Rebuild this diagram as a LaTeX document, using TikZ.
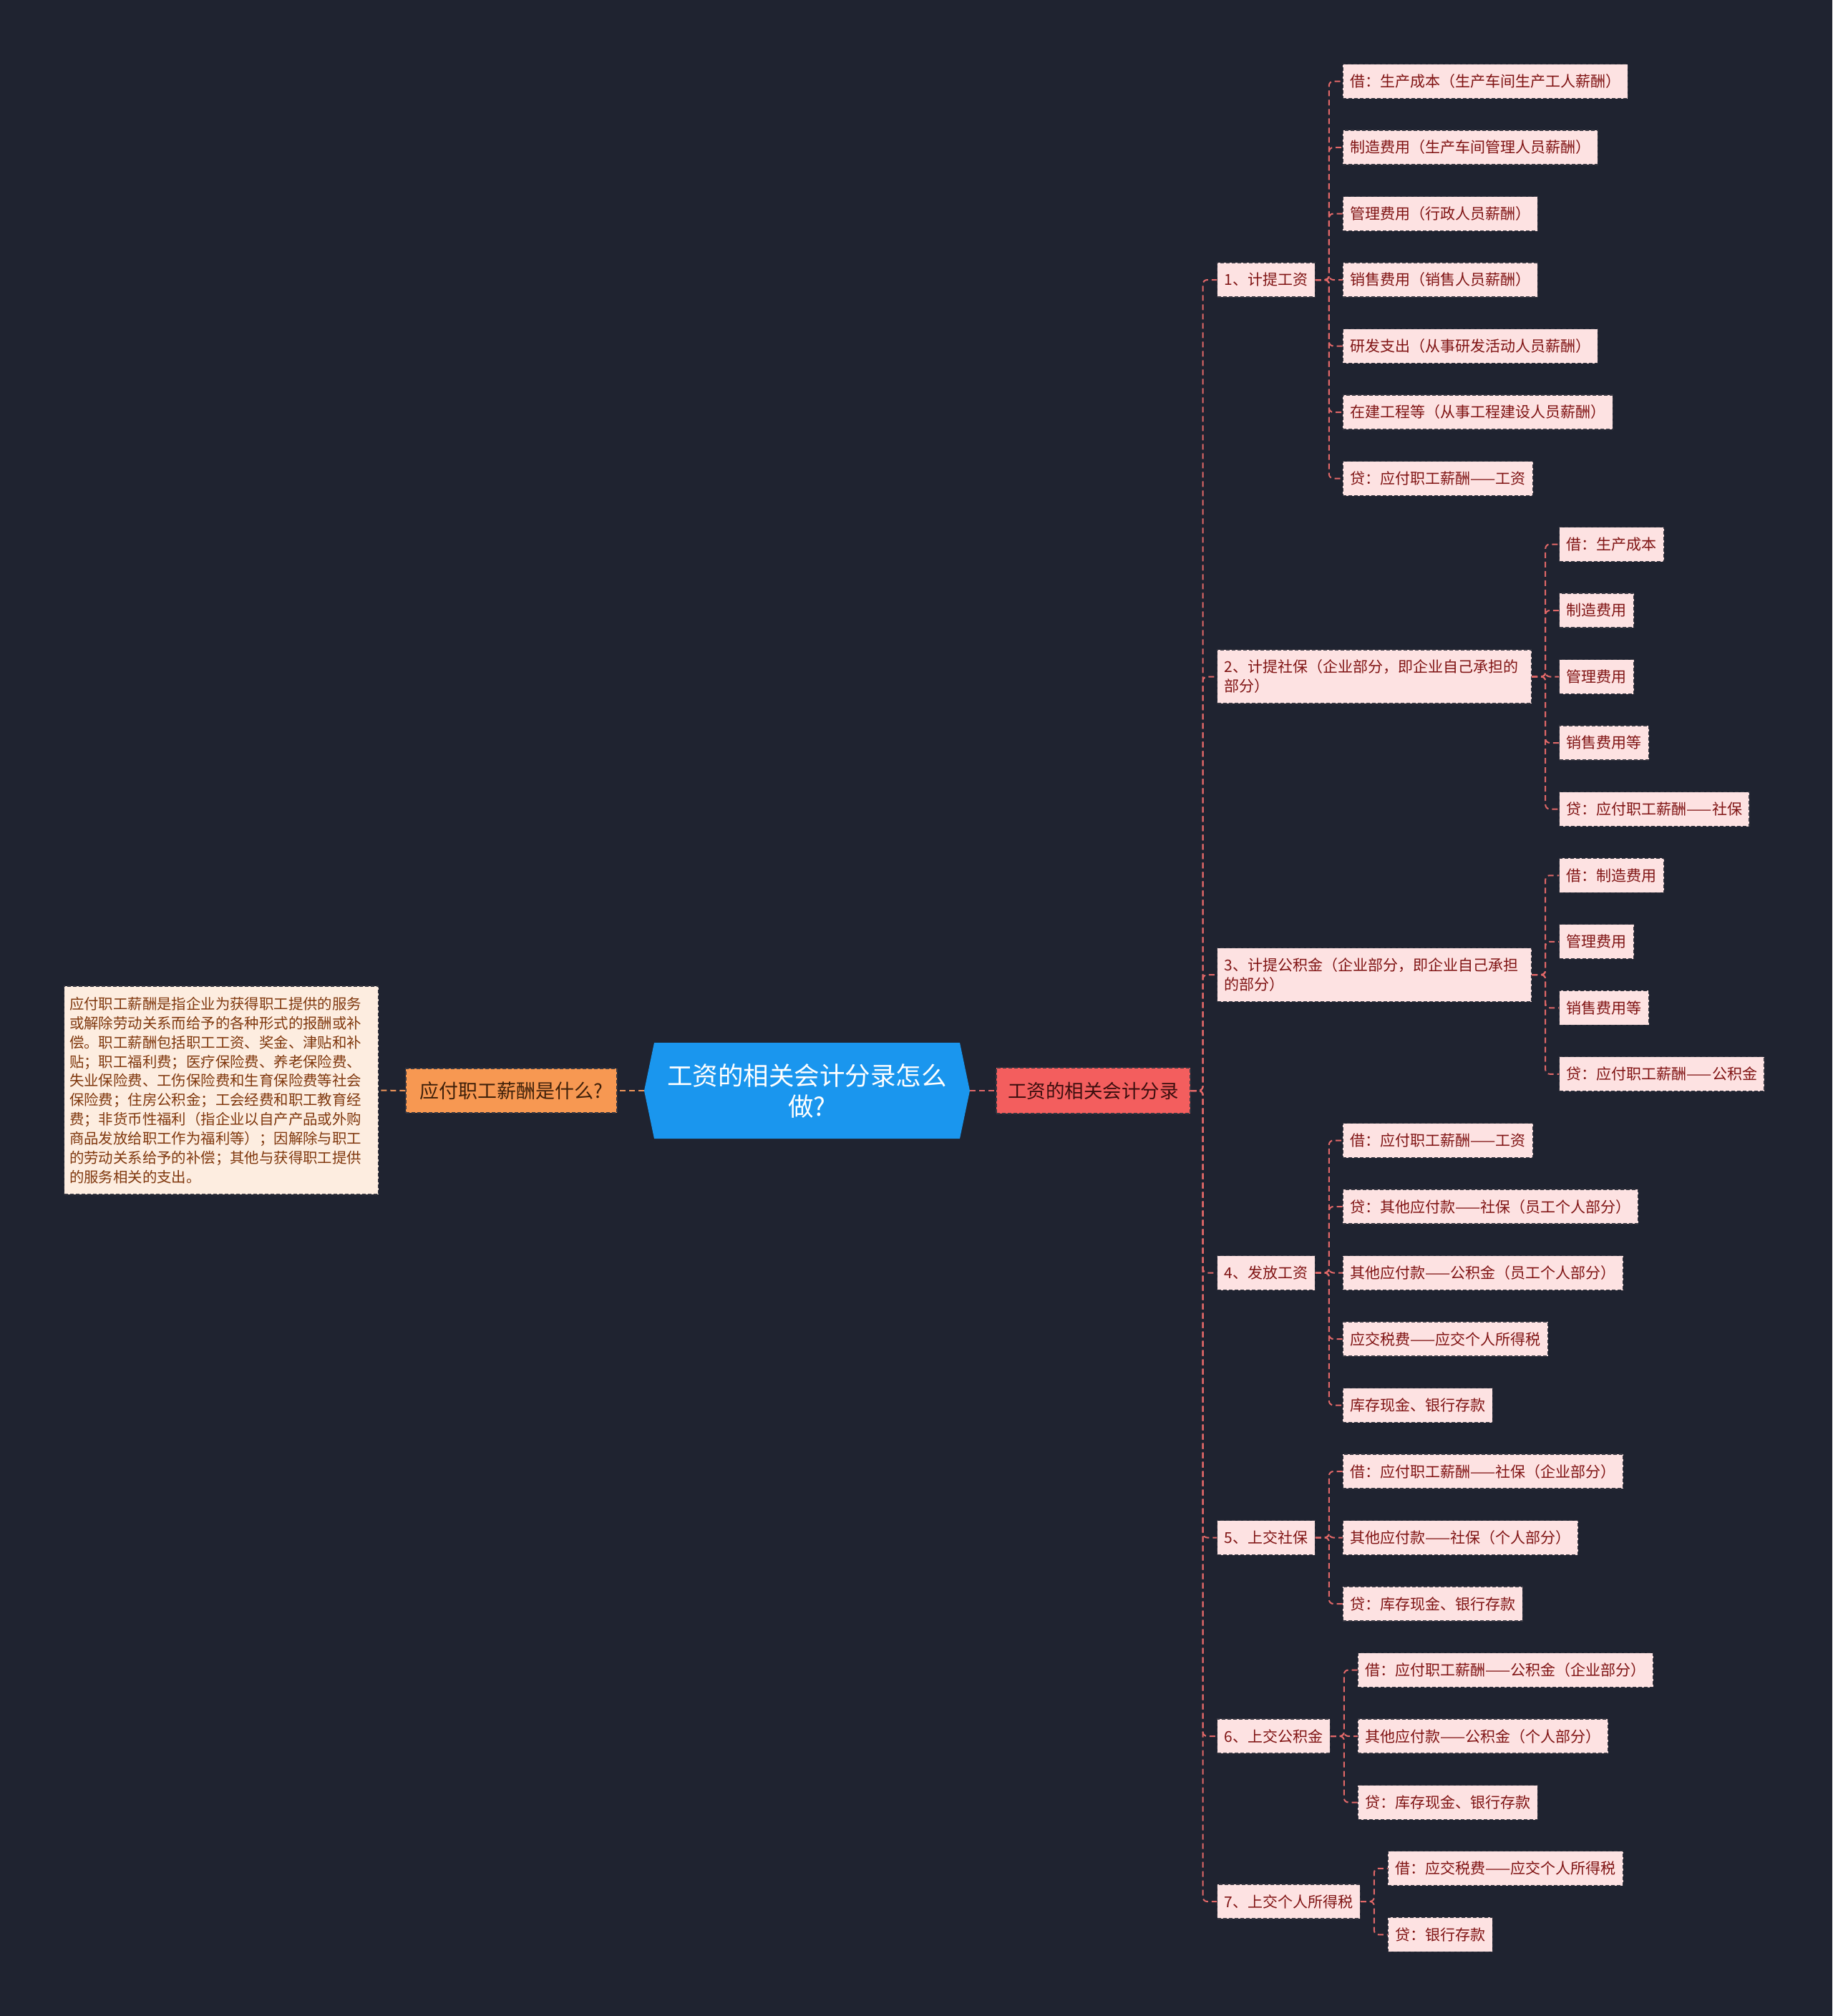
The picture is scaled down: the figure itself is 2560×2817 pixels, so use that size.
\documentclass[tikz,border=0pt]{standalone}
\usepackage{fontspec}
\setmainfont{Noto Sans CJK SC}
\usetikzlibrary{calc}
\definecolor{bgc}{RGB}{31,35,48}
\definecolor{rootblue}{RGB}{26,150,238}
\definecolor{mainred}{RGB}{243,94,94}
\definecolor{maintext}{RGB}{60,14,14}
\definecolor{orangefill}{RGB}{247,152,82}
\definecolor{orangetext}{RGB}{62,32,10}
\definecolor{notefill}{RGB}{253,237,224}
\definecolor{notetext}{RGB}{128,56,14}
\definecolor{leaffill}{RGB}{253,226,226}
\definecolor{leaftext}{RGB}{128,20,20}
\definecolor{bordercol}{RGB}{55,55,65}
\definecolor{conncol}{RGB}{226,104,104}
\definecolor{oconncol}{RGB}{240,150,90}
\begin{document}
\begin{tikzpicture}[x=1pt,y=-1pt,
  boxbase/.style={draw=bordercol, dash pattern=on 5pt off 3pt, line width=1.2pt},
  leafbox/.style={boxbase, fill=leaffill, text=leaftext, font=\fontsize{21}{27}\selectfont,
    inner xsep=10pt, inner ysep=0pt, minimum height=48pt, anchor=west},
  twoline/.style={leafbox, text width=419pt, align=left, minimum height=75pt},
  conn/.style={draw=conncol, line width=2pt, dash pattern=on 8pt off 5pt, rounded corners=6pt},
  oconn/.style={draw=oconncol, line width=2pt, dash pattern=on 8pt off 5pt}
]
\useasboundingbox (0,0) rectangle (2560,2817);
\fill[bgc] (0,0) rectangle (2560,2817);

% root hexagon
\fill[rootblue] (900,1524) -- (914,1457) -- (1341,1457) -- (1355,1524) -- (1341,1591) -- (914,1591) -- cycle;
\node[text=white, align=center, font=\fontsize{35.5}{43}\selectfont, minimum width=455pt, minimum height=134pt, inner sep=0pt] (root) at (1127.5,1524) {工资的相关会计分录怎么\\做?};

% left side
\node[boxbase, fill=orangefill, text=orangetext, font=\fontsize{27}{32}\selectfont, minimum width=295pt, minimum height=62pt, inner sep=0pt] (what) at (714.5,1524) {应付职工薪酬是什么?};
\node[boxbase, fill=notefill, text=notetext, font=\fontsize{20.4}{26.9}\selectfont, text width=424pt, align=left, inner xsep=7.5pt, minimum height=291pt, anchor=west] (note) at (89,1523.5) {应付职工薪酬是指企业为获得职工提供的服务\\或解除劳动关系而给予的各种形式的报酬或补\\偿。职工薪酬包括职工工资、奖金、津贴和补\\贴；职工福利费；医疗保险费、养老保险费、\\失业保险费、工伤保险费和生育保险费等社会\\保险费；住房公积金；工会经费和职工教育经\\费；非货币性福利（指企业以自产产品或外购\\商品发放给职工作为福利等）；因解除与职工\\的劳动关系给予的补偿；其他与获得职工提供\\的服务相关的支出。};
\draw[oconn] (root.west) -- (what.east);
\draw[oconn] (what.west) -- (note.east);

% main right node
\node[boxbase, fill=mainred, text=maintext, font=\fontsize{26.5}{32}\selectfont, minimum width=271pt, minimum height=64pt, inner sep=0pt] (main) at (1527.5,1524) {工资的相关会计分录};
\draw[conn] (root.east) -- (main.west);

% level 1
\node[leafbox] (L1) at (1700,391) {1、计提工资};
\node[twoline] (L2) at (1700,945.5) {2、计提社保（企业部分，即企业自己承担的\\部分）};
\node[twoline] (L3) at (1700,1362) {3、计提公积金（企业部分，即企业自己承担\\的部分）};
\node[leafbox] (L4) at (1700,1778.5) {4、发放工资};
\node[leafbox] (L5) at (1700,2148.5) {5、上交社保};
\node[leafbox] (L6) at (1700,2426) {6、上交公积金};
\node[leafbox] (L7) at (1700,2657) {7、上交个人所得税};
\foreach \n in {L1,L2,L3,L4,L5,L6,L7}
  \draw[conn] (main.east) -- ++(17,0) |- (\n.west);

% children of L1
\node[leafbox] (a1) at ($(L1.east)+(38,-277.5)$) {借：生产成本（生产车间生产工人薪酬）};
\node[leafbox] (a2) at ($(L1.east)+(38,-185)$) {制造费用（生产车间管理人员薪酬）};
\node[leafbox] (a3) at ($(L1.east)+(38,-92.5)$) {管理费用（行政人员薪酬）};
\node[leafbox] (a4) at ($(L1.east)+(38,0)$) {销售费用（销售人员薪酬）};
\node[leafbox] (a5) at ($(L1.east)+(38,92.5)$) {研发支出（从事研发活动人员薪酬）};
\node[leafbox] (a6) at ($(L1.east)+(38,185)$) {在建工程等（从事工程建设人员薪酬）};
\node[leafbox] (a7) at ($(L1.east)+(38,277.5)$) {贷：应付职工薪酬——工资};
\foreach \n in {a1,a2,a3,a4,a5,a6,a7}
  \draw[conn] (L1.east) -- ++(19,0) |- (\n.west);

% children of L2
\node[leafbox] (b1) at ($(L2.east)+(38,-185)$) {借：生产成本};
\node[leafbox] (b2) at ($(L2.east)+(38,-92.5)$) {制造费用};
\node[leafbox] (b3) at ($(L2.east)+(38,0)$) {管理费用};
\node[leafbox] (b4) at ($(L2.east)+(38,92.5)$) {销售费用等};
\node[leafbox] (b5) at ($(L2.east)+(38,185)$) {贷：应付职工薪酬——社保};
\foreach \n in {b1,b2,b3,b4,b5}
  \draw[conn] (L2.east) -- ++(19,0) |- (\n.west);

% children of L3
\node[leafbox] (c1) at ($(L3.east)+(38,-138.75)$) {借：制造费用};
\node[leafbox] (c2) at ($(L3.east)+(38,-46.25)$) {管理费用};
\node[leafbox] (c3) at ($(L3.east)+(38,46.25)$) {销售费用等};
\node[leafbox] (c4) at ($(L3.east)+(38,138.75)$) {贷：应付职工薪酬——公积金};
\foreach \n in {c1,c2,c3,c4}
  \draw[conn] (L3.east) -- ++(19,0) |- (\n.west);

% children of L4
\node[leafbox] (d1) at ($(L4.east)+(38,-185)$) {借：应付职工薪酬——工资};
\node[leafbox] (d2) at ($(L4.east)+(38,-92.5)$) {贷：其他应付款——社保（员工个人部分）};
\node[leafbox] (d3) at ($(L4.east)+(38,0)$) {其他应付款——公积金（员工个人部分）};
\node[leafbox] (d4) at ($(L4.east)+(38,92.5)$) {应交税费——应交个人所得税};
\node[leafbox] (d5) at ($(L4.east)+(38,185)$) {库存现金、银行存款};
\foreach \n in {d1,d2,d3,d4,d5}
  \draw[conn] (L4.east) -- ++(19,0) |- (\n.west);

% children of L5
\node[leafbox] (e1) at ($(L5.east)+(38,-92.5)$) {借：应付职工薪酬——社保（企业部分）};
\node[leafbox] (e2) at ($(L5.east)+(38,0)$) {其他应付款——社保（个人部分）};
\node[leafbox] (e3) at ($(L5.east)+(38,92.5)$) {贷：库存现金、银行存款};
\foreach \n in {e1,e2,e3}
  \draw[conn] (L5.east) -- ++(19,0) |- (\n.west);

% children of L6
\node[leafbox] (f1) at ($(L6.east)+(38,-92.5)$) {借：应付职工薪酬——公积金（企业部分）};
\node[leafbox] (f2) at ($(L6.east)+(38,0)$) {其他应付款——公积金（个人部分）};
\node[leafbox] (f3) at ($(L6.east)+(38,92.5)$) {贷：库存现金、银行存款};
\foreach \n in {f1,f2,f3}
  \draw[conn] (L6.east) -- ++(19,0) |- (\n.west);

% children of L7
\node[leafbox] (g1) at ($(L7.east)+(38,-46.25)$) {借：应交税费——应交个人所得税};
\node[leafbox] (g2) at ($(L7.east)+(38,46.25)$) {贷：银行存款};
\foreach \n in {g1,g2}
  \draw[conn] (L7.east) -- ++(19,0) |- (\n.west);
\end{tikzpicture}
\end{document}
